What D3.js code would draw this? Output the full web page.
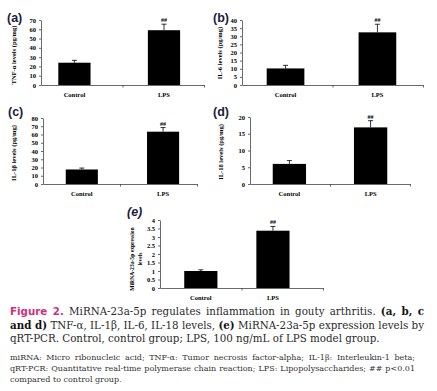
<!DOCTYPE html>
<html>
<head>
<meta charset="utf-8">
<script src="https://cdn.jsdelivr.net/npm/d3@7"></script>
<style>
body { margin: 0; background: #fff; }
</style>
</head>
<body>
<div id="fig"></div>
<script>
// values (mean, upper error)
const GROUPS = ["Control", "LPS"];

const tnfMean = [24, 59];
const tnfErr = [2.6, 6.5];
const tnfTicks = [0, 10, 20, 30, 40, 50, 60, 70];

const il6Mean = [10.2, 32.4];
const il6Err = [1.9, 5];
const il6Ticks = [0, 5, 10, 15, 20, 25, 30, 35, 40];

const il1bMean = [17.6, 63.4];
const il1bErr = [1.7, 5];
const il1bTicks = [0, 10, 20, 30, 40, 50, 60, 70, 80];

const il18Mean = [6, 16.9];
const il18Err = [1, 2];
const il18Ticks = [0, 5, 10, 15, 20];

const mirMean = [1, 3.37];
const mirErr = [0.07, 0.25];
const mirTicks = [0, 0.5, 1, 1.5, 2, 2.5, 3, 3.5, 4];

const SIG = ["", "##"];

const W = 437, H = 391;
const TICK_FONT = "'Liberation Serif', serif";

const svg = d3.select("#fig").append("svg")
    .attr("width", W)
    .attr("height", H);

svg.append("rect").attr("width", W).attr("height", H).attr("fill", "#fff");

function drawPanel(p) {
    const g = svg.append("g");
    const ticks = p.ticks;
    const y = d3.scaleLinear()
        .domain([0, ticks[ticks.length - 1]])
        .range([p.yBot, p.yTop]);
    const x = d3.scaleBand()
        .domain(GROUPS)
        .range([p.x0, p.x1])
        .paddingInner(p.pi)
        .paddingOuter(p.po)
        .align(p.align);

    // y axis
    const ya = g.append("g")
        .attr("transform", `translate(${p.x0},0)`)
        .call(d3.axisLeft(y).tickValues(ticks).tickSize(2).tickSizeOuter(0).tickPadding(3).tickFormat(String));
    ya.selectAll("text")
        .attr("font-family", TICK_FONT)
        .attr("font-weight", "bold")
        .attr("font-size", 6.5)
        .attr("fill", "#000");

    // x axis with ticks at category boundaries
    const xb = d3.scaleLinear().domain([0, 2]).range([p.x0, p.x1]);
    g.append("g")
        .attr("transform", `translate(0,${p.yBot})`)
        .call(d3.axisBottom(xb).tickValues([1, 2]).tickSize(2.5).tickSizeOuter(0).tickFormat(""));

    g.selectAll(".domain, .tick line").attr("stroke", "#444").attr("stroke-width", 0.8);

    // bars
    g.selectAll("rect.bar")
        .data(GROUPS)
        .enter()
        .append("rect")
        .attr("class", "bar")
        .attr("x", d => x(d))
        .attr("width", x.bandwidth())
        .attr("y", (d, i) => y(p.mean[i]))
        .attr("height", (d, i) => y(0) - y(p.mean[i]))
        .attr("fill", "#000");

    // upper error bars
    const cx = d => x(d) + x.bandwidth() / 2;
    g.selectAll("line.err")
        .data(GROUPS)
        .enter()
        .append("line")
        .attr("x1", cx).attr("x2", cx)
        .attr("y1", (d, i) => y(p.mean[i]))
        .attr("y2", (d, i) => y(p.mean[i] + p.err[i]))
        .attr("stroke", "#000")
        .attr("stroke-width", 0.8);
    g.selectAll("line.cap")
        .data(GROUPS)
        .enter()
        .append("line")
        .attr("x1", d => cx(d) - 2.5).attr("x2", d => cx(d) + 2.5)
        .attr("y1", (d, i) => y(p.mean[i] + p.err[i]))
        .attr("y2", (d, i) => y(p.mean[i] + p.err[i]))
        .attr("stroke", "#000")
        .attr("stroke-width", 0.8);

    // significance marks
    g.selectAll("text.sig")
        .data(GROUPS)
        .enter()
        .append("text")
        .attr("x", cx)
        .attr("y", (d, i) => y(p.mean[i] + p.err[i]) - 2)
        .attr("text-anchor", "middle")
        .attr("font-family", TICK_FONT)
        .attr("font-size", 6)
        .attr("font-weight", "bold")
        .text((d, i) => SIG[i]);

    // category labels
    g.selectAll("text.cat")
        .data(GROUPS)
        .enter()
        .append("text")
        .attr("x", cx)
        .attr("y", p.yBot + 12)
        .attr("text-anchor", "middle")
        .attr("font-family", TICK_FONT)
        .attr("font-size", 6.5)
        .attr("font-weight", "bold")
        .text(d => d);

    // y title
    const yt = g.append("text")
        .attr("transform", `translate(${p.titleX},${p.titleY}) rotate(-90)`)
        .attr("text-anchor", "middle")
        .attr("font-family", TICK_FONT)
        .attr("font-size", p.titleSize || 6.5)
        .attr("font-weight", "bold");
    p.title.forEach((t, i) => {
        yt.append("tspan").attr("x", 0).attr("dy", i === 0 ? 0 : 8).text(t);
    });

    // panel letter
    g.append("text")
        .attr("x", p.labX)
        .attr("y", p.labY)
        .attr("font-family", "'Liberation Sans', Arial, sans-serif")
        .attr("font-weight", "bold")
        .attr("font-style", p.italic ? "italic" : "normal")
        .attr("font-size", 12.5)
        .attr("fill", "#1c1c3a")
        .text(p.label);
}

const panels = [
    { label: "(a)", labX: 7, labY: 22, mean: tnfMean, err: tnfErr, ticks: tnfTicks,
      x0: 41, x1: 204, yTop: 20, yBot: 85, pi: 0.64, po: 0.23, align: 0.42,
      title: ["TNF-\u03b1 levels (pg/mg)"], titleX: 16, titleY: 55 },
    { label: "(b)", labX: 213, labY: 22, mean: il6Mean, err: il6Err, ticks: il6Ticks,
      x0: 242, x1: 423, yTop: 20, yBot: 85, pi: 0.59, po: 0.28, align: 0.48,
      title: ["IL-6 levels (pg/mg)"], titleX: 222, titleY: 53 },
    { label: "(c)", labX: 8, labY: 116, mean: il1bMean, err: il1bErr, ticks: il1bTicks,
      x0: 43, x1: 197, yTop: 118, yBot: 184, pi: 0.605, po: 0.25, align: 0.56,
      title: ["IL-1\u03b2 levels (pg/mg)"], titleX: 16, titleY: 153 },
    { label: "(d)", labX: 213, labY: 116, mean: il18Mean, err: il18Err, ticks: il18Ticks,
      x0: 250, x1: 410, yTop: 117, yBot: 184, pi: 0.59, po: 0.28, align: 0.5,
      title: ["IL-18 levels (pg/mg)"], titleX: 223, titleY: 152 },
    { label: "(e)", labX: 127, labY: 216, italic: true, mean: mirMean, err: mirErr, ticks: mirTicks,
      x0: 160, x1: 323, yTop: 220, yBot: 288, pi: 0.54, po: 0.4, align: 0.42,
      title: ["MiRNA-23a-5p expression", "levels"], titleX: 134, titleY: 259, titleSize: 5.6 }
];

panels.forEach(drawPanel);

// caption, justified by word spacing
const CAP_FONT = "'DejaVu Serif', serif";
const capLines = [
    [["Figure 2.", "fig"], [" MiRNA-23a-5p regulates inflammation in gouty arthritis. ", ""], ["(a, b, c", "b"]],
    [["and d)", "b"], [" TNF-\u03b1, IL-1\u03b2, IL-6, IL-18 levels, ", ""], ["(e)", "b"], [" MiRNA-23a-5p expression levels by", ""]],
    [["qRT-PCR. Control, control group; LPS, 100 ng/mL of LPS model group.", ""]]
];
const capJustify = [true, true, false];

const noteLines = [
    [["miRNA: Micro ribonucleic acid; TNF-\u03b1: Tumor necrosis factor-alpha; IL-1\u03b2: Interleukin-1 beta;", ""]],
    [["qRT-PCR: Quantitative real-time polymerase chain reaction; LPS: Lipopolysaccharides; ## p<0.01", ""]],
    [["compared to control group.", ""]]
];
const noteJustify = [true, true, false];

function writeBlock(lines, justify, opt) {
    const els = lines.map((line, i) => {
        const t = svg.append("text")
            .attr("x", opt.x)
            .attr("y", opt.y + i * opt.lead)
            .attr("font-family", CAP_FONT)
            .attr("fill", opt.color);
        line.forEach(([s, k]) => {
            const ts = t.append("tspan").text(s);
            if (k === "fig") ts.attr("font-weight", "bold").attr("fill", "#d2307c").attr("font-family", "'DejaVu Sans', sans-serif");
            if (k === "b") ts.attr("font-weight", "bold").attr("fill", "#111");
        });
        return t;
    });
    // shrink until every line fits
    let size = opt.size;
    const fits = () => els.every(t => t.node().getComputedTextLength() <= opt.width);
    els.forEach(t => t.attr("font-size", size));
    while (!fits() && size > 6) {
        size -= 0.1;
        els.forEach(t => t.attr("font-size", size));
    }
    els.forEach((t, i) => {
        if (!justify[i]) return;
        const text = t.text();
        const spaces = (text.match(/ /g) || []).length;
        const extra = opt.width - t.node().getComputedTextLength();
        if (spaces > 0) t.attr("word-spacing", extra / spaces);
    });
}

writeBlock(capLines, capJustify, { x: 10, y: 315, lead: 13.5, width: 414, size: 12.5, color: "#2a2a2a" });
writeBlock(noteLines, noteJustify, { x: 10, y: 360, lead: 11, width: 405, size: 9.5, color: "#333" });
</script>
</body>
</html>
